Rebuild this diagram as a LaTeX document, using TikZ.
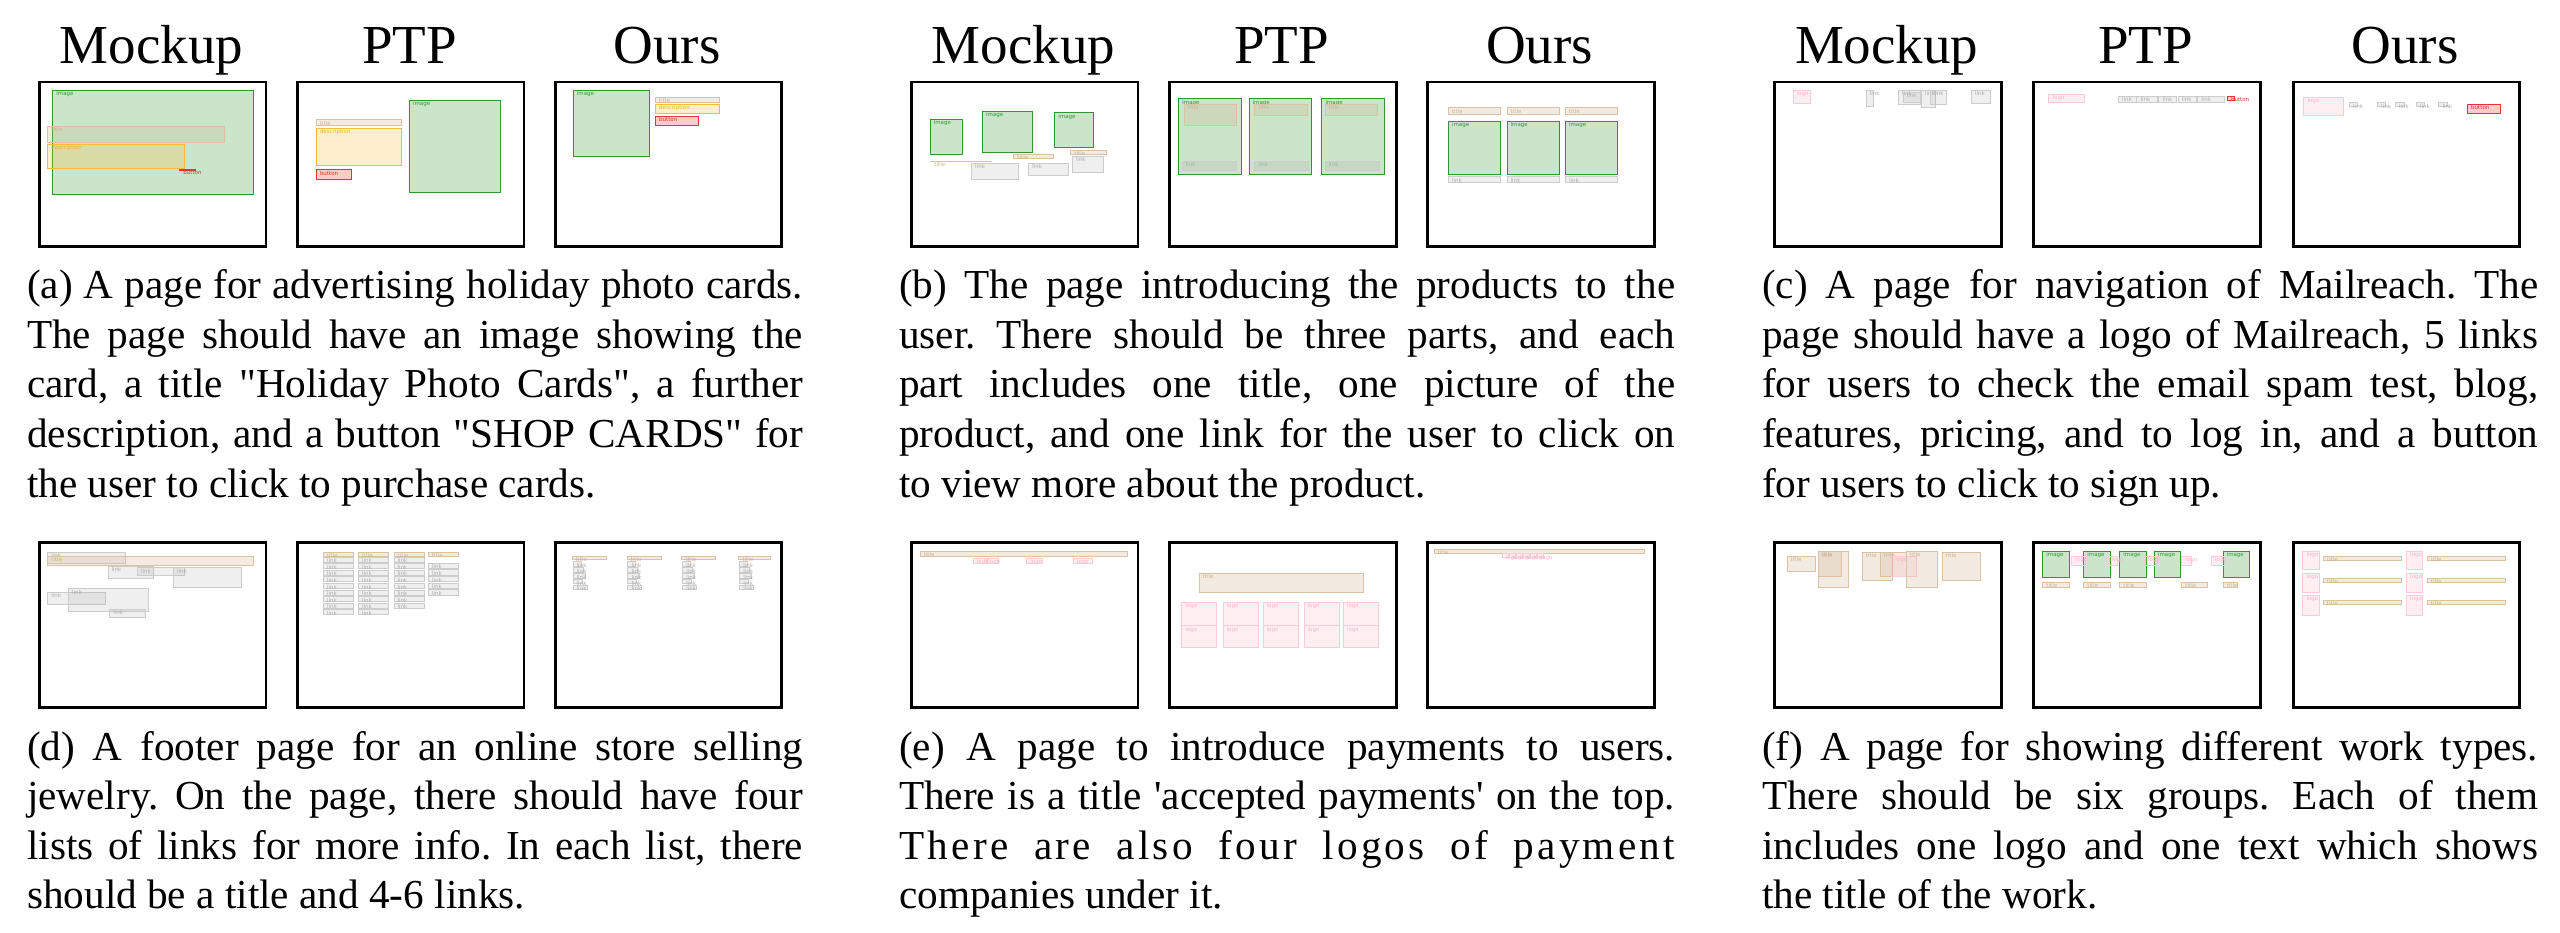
\documentclass[tikz,border=0pt]{standalone}
\usepackage{fontspec}
\newfontfamily\capf{Liberation Serif}
\newfontfamily\lblf{DejaVu Sans}
\definecolor{imgC}{rgb}{0.2,0.6,0.2}
\definecolor{imgB}{rgb}{0.2,0.58,0.2}
\definecolor{ttlC}{rgb}{0.82,0.70,0.55}
\definecolor{ttlB}{rgb}{0.86,0.76,0.64}
\definecolor{desC}{rgb}{1,0.75,0.2}
\definecolor{desB}{rgb}{0.96,0.74,0.25}
\definecolor{btnC}{rgb}{1,0.2,0.2}
\definecolor{btnB}{rgb}{0.9,0.2,0.22}
\definecolor{lnkC}{rgb}{0.6,0.6,0.6}
\definecolor{lnkB}{rgb}{0.8,0.8,0.8}
\definecolor{logC}{rgb}{1,0.6,0.7}
\definecolor{logB}{rgb}{0.98,0.8,0.84}
\definecolor{imgT}{rgb}{0.2,0.6,0.2}
\definecolor{ttlT}{rgb}{0.8,0.7,0.6}
\definecolor{desT}{rgb}{0.94,0.7,0.25}
\definecolor{btnT}{rgb}{0.85,0.2,0.2}
\definecolor{lnkT}{rgb}{0.68,0.68,0.68}
\definecolor{logT}{rgb}{0.95,0.72,0.78}
\newcounter{bxn}
\newcommand\bx[6]{\stepcounter{bxn}\draw[#1] (#2,#3) rectangle (#4,#5);
  \node[lbl,#1txt] (L\the\value{bxn}) at (#2,#3) {#6};}
\newcommand\pnl[4]{\begin{scope}[shift={(#2,#3)}]#4
  \node[frame] (#1) at (1.35,1.35) {};\end{scope}}
\newcommand\jl[1]{\makebox[776pt][s]{#1}}
\frenchspacing
\begin{document}
\begin{tikzpicture}[x=1pt,y=-1pt,
  frame/.style={draw=black,line width=2.7pt,anchor=north west,inner sep=0pt,
    minimum width=226.6pt,minimum height=164.6pt},
  img/.style={draw=imgB,fill=imgC,fill opacity=0.25,line width=0.9pt},
  imgtxt/.style={text=imgT},
  ttl/.style={draw=ttlB,fill=ttlC,fill opacity=0.25,line width=0.9pt},
  ttltxt/.style={text=ttlT},
  des/.style={draw=desB,fill=desC,fill opacity=0.25,line width=0.9pt},
  destxt/.style={text=desT},
  btn/.style={draw=btnB,fill=btnC,fill opacity=0.25,line width=0.9pt},
  btntxt/.style={text=btnT},
  lnk/.style={draw=lnkB,fill=lnkC,fill opacity=0.15,line width=0.9pt},
  lnktxt/.style={text=lnkT},
  lgo/.style={draw=logB,fill=logC,fill opacity=0.15,line width=0.9pt},
  lgotxt/.style={text=logT},
  lbl/.style={anchor=north west,inner sep=0pt,xshift=3.5pt,yshift=-1.3pt,
    font=\lblf\fontsize{5.5}{6}\selectfont},
  tt/.style={anchor=base,inner sep=0pt,font=\capf\fontsize{55}{60}\selectfont},
  capline/.style={anchor=base west,inner sep=0pt,font=\capf\frenchspacing\fontsize{41.2}{50}\selectfont}]
\fill[white] (0,0) rectangle (2560,932);
\useasboundingbox (0,0) rectangle (2560,932);

% ---------- titles ----------
\node[tt] (tA1) at (151.4,63) {Mockup};
\node[tt] (tA2) at (409.4,63) {PTP};
\node[tt] (tA3) at (667.2,63) {Ours};
\node[tt] (tB1) at (1023.4,63) {Mockup};
\node[tt] (tB2) at (1281.7,63) {PTP};
\node[tt] (tB3) at (1539.7,63) {Ours};
\node[tt] (tC1) at (1886.7,63) {Mockup};
\node[tt] (tC2) at (2145.7,63) {PTP};
\node[tt] (tC3) at (2405.2,63) {Ours};

% ---------- (a) ----------
\pnl{fA1}{36.7}{79.3}{%
  \bx{img}{16}{11}{217}{115}{image}
  \bx{ttl}{11}{47}{188}{63}{title}
  \bx{des}{11}{65}{148}{89}{description}
  \bx{btn}{143}{90}{159}{91.3}{button}}
\pnl{fA2}{294.7}{79.3}{%
  \bx{ttl}{21.6}{40.4}{107}{45.7}{title}
  \bx{des}{21.6}{49}{107}{86}{description}
  \bx{btn}{21.6}{90.4}{57}{99.7}{button}
  \bx{img}{114.6}{21}{206}{113.4}{image}}
\pnl{fA3}{552.5}{79.3}{%
  \bx{img}{20.7}{11}{97}{77.4}{image}
  \bx{ttl}{103}{18}{167}{23.4}{title}
  \bx{des}{103}{25}{167}{33.7}{description}
  \bx{btn}{103}{36.7}{146.4}{46}{button}}

% ---------- (b) ----------
\pnl{fB1}{908.7}{79.3}{%
  \bx{img}{21.4}{40}{53.4}{75.3}{image}
  \bx{img}{73.8}{31.7}{124}{73.3}{image}
  \bx{img}{146}{33.3}{184.5}{68.3}{image}
  \bx{ttl}{22}{82}{82.4}{82.6}{title}
  \bx{ttl}{105}{75}{145}{78.7}{title}
  \bx{ttl}{162}{71}{198}{75}{title}
  \bx{lnk}{62.8}{83.7}{109.3}{99.7}{link}
  \bx{lnk}{120}{83.7}{160}{96.3}{link}
  \bx{lnk}{163.4}{76.7}{195}{93}{link}}
\pnl{fB2}{1167}{79.3}{%
  \bx{img}{11.7}{19.3}{74.1}{94.7}{image}
  \bx{ttl}{17}{25}{69.7}{46}{title}
  \bx{lnk}{15}{82}{69.7}{91.3}{link}
  \bx{img}{82}{19.3}{144.5}{94.7}{image}
  \bx{ttl}{87.6}{25}{140}{35.7}{title}
  \bx{lnk}{87.6}{82}{141.7}{91.3}{link}
  \bx{img}{154.8}{19.3}{217.2}{94.7}{image}
  \bx{ttl}{158}{25}{210.3}{35.7}{title}
  \bx{lnk}{158}{82}{212}{91.3}{link}}
\pnl{fB3}{1425}{79.3}{%
  \foreach \a/\b in {23.3/75.3,82/134.3,140.3/192.7}{%
    \bx{ttl}{\a}{28.4}{\b}{35.4}{title}
    \bx{img}{\a}{42}{\b}{94.7}{image}
    \bx{lnk}{\a}{97.4}{\b}{103.4}{link}}}

% ---------- (c) ----------
\pnl{fC1}{1772}{79.3}{%
  \bx{lgo}{21}{11}{38}{23.7}{logo}
  \bx{lnk}{94}{11}{101.2}{27}{link}
  \bx{lnk}{126.3}{11}{148.8}{25.3}{link}
  \bx{lnk}{131}{13}{148}{23}{link}
  \bx{lnk}{149.3}{11}{163.6}{27.7}{link}
  \bx{lnk}{158}{11}{174}{25.3}{link}
  \bx{lnk}{199.4}{11}{218.8}{24.3}{link}}
\pnl{fC2}{2031}{79.3}{%
  \bx{lgo}{17.9}{14.7}{53.7}{23.3}{logo}
  \foreach \a/\b in {87.4/105.8,105.8/126.3,127.8/145.2,147/165,166.6/193.3}{%
    \bx{lnk}{\a}{16.7}{\b}{23.3}{link}}
  \bx{btn}{196.3}{16.7}{203.5}{21.3}{button}}
\pnl{fC3}{2290.5}{79.3}{%
  \bx{lgo}{13.3}{17.7}{53.2}{35.7}{logo}
  \foreach \a/\b in {59/67.3,87/95.2,104.9/114.2,125.8/134.1,148.3/156.5}{%
    \bx{lnk}{\a}{23.3}{\b}{26.7}{link}}
  \bx{btn}{177}{25}{210.4}{34}{button}}

% ---------- (d) ----------
\pnl{fD1}{36.7}{540}{%
  \bx{lnk}{11}{12.3}{89}{23.3}{link}
  \bx{ttl}{11}{16}{217}{25}{title}
  \bx{lnk}{71.3}{26.3}{116.7}{38.7}{link}
  \bx{lnk}{100.6}{27.7}{147.7}{35.3}{link}
  \bx{lnk}{136.6}{27.7}{204.6}{47.7}{link}
  \bx{lnk}{11}{52}{69}{64.7}{link}
  \bx{lnk}{31.6}{48.7}{111.6}{71.3}{link}
  \bx{lnk}{73}{69.3}{108.3}{77}{link}}
\pnl{fD2}{294.7}{540}{%
  \foreach \a/\n in {28.6/8,63.6/8,99.3/7}{%
    \bx{ttl}{\a}{12.3}{\a+30}{16.3}{title}
    \foreach \k in {0,...,\n}{%
      \bx{lnk}{\a}{17+6.6*\k}{\a+30}{22+6.6*\k}{link}}}
  \bx{ttl}{133.6}{12.3}{163.7}{16.3}{title}
  \foreach \k in {0,...,4}{%
    \bx{lnk}{133.6}{23.3+6.6*\k}{163.7}{28.6+6.6*\k}{link}}}
\pnl{fD3}{552.5}{540}{%
  \foreach \a/\b in {19.7/53.7,74.5/108.5,129.3/163.3,186.3/218}{%
    \bx{ttl}{\a}{16}{\b}{19.7}{title}}
  \foreach \a in {20.5,75.3,130.1,187.1}{%
    \foreach \k/\w in {0/8,1/10,2/12,3/9,4/14}{%
      \bx{lnk}{\a}{21.7+5.9*\k}{\a+\w}{26.2+5.9*\k}{link}}}}

% ---------- (e) ----------
\pnl{fE1}{908.7}{540}{%
  \bx{ttl}{11.3}{11}{218.3}{16.3}{title}
  \bx{lgo}{64.3}{18}{78.3}{23.3}{logo}
  \bx{lgo}{76}{18}{89.7}{23.3}{logo}
  \bx{lgo}{118}{18}{134}{23.3}{logo}
  \bx{lgo}{164.7}{18}{184}{23.3}{logo}}
\pnl{fE2}{1167}{540}{%
  \bx{ttl}{32}{33.3}{196}{52.3}{title}
  \foreach \a/\b in {14.7/49.7,56/91,96/131,137/172,176.3/211.7}{%
    \bx{lgo}{\a}{62.3}{\b}{85.7}{logo}
    \bx{lgo}{\a}{85.7}{\b}{107.3}{logo}}}
\pnl{fE3}{1425}{540}{%
  \bx{ttl}{9}{9}{219}{13}{title}
  \foreach \a in {77,84,91,98,105,112}{%
    \bx{lgo}{\a}{13.5}{\a+6}{17}{logo}}}

% ---------- (f) ----------
\pnl{fF1}{1772}{540}{%
  \bx{ttl}{15}{16}{43.3}{31.7}{title}
  \bx{ttl}{46}{11}{76}{47.7}{title}
  \bx{ttl}{46}{11.7}{69.3}{36.7}{title}
  \bx{ttl}{90.3}{12.3}{120.3}{40.7}{title}
  \bx{ttl}{108}{12.3}{134.3}{36.7}{title}
  \bx{lgo}{119.7}{16}{144.3}{36.7}{logo}
  \bx{ttl}{134}{11}{165.3}{47.7}{title}
  \bx{ttl}{170}{12.3}{208.3}{40.7}{title}}
\pnl{fF2}{2031}{540}{%
  \foreach \a/\b in {11.7/38,52.7/79,88.7/115,123.3/149.7,192/218}{%
    \bx{img}{\a}{11}{\b}{37}{image}}
  \foreach \a/\b in {40.7/55,77.3/86,113.3/127.3,150.7/160,180/194.3}{%
    \bx{lgo}{\a}{16}{\b}{25.3}{logo}}
  \foreach \a/\b in {11.7/38,52.7/79,88.7/115,150.7/176.7,192/206.7}{%
    \bx{ttl}{\a}{42.3}{\b}{47.7}{title}}}
\pnl{fF3}{2290.5}{540}{%
  \foreach \r/\s in {11/29.7,33/52.3,55.3/75.3}{%
    \bx{lgo}{12.3}{\r}{28.6}{\s}{logo}
    \bx{lgo}{116}{\r}{132.3}{\s}{logo}}
  \foreach \r in {16,38.3,60.3}{%
    \bx{ttl}{33}{\r}{111.3}{\r+4}{title}
    \bx{ttl}{136.6}{\r}{214.6}{\r+4}{title}}}

% ---------- captions ----------
\node[capline] (cA1) at (27,298.3) {\jl{(a) A page for advertising holiday photo cards.}};
\node[capline] (cA2) at (27,348) {\jl{The page should have an image showing the}};
\node[capline] (cA3) at (27,397.7) {\jl{card, a title "Holiday Photo Cards", a further}};
\node[capline] (cA4) at (27,447.4) {\jl{description, and a button "SHOP CARDS" for}};
\node[capline] (cA5) at (27,497.1) {the user to click to purchase cards.};

\node[capline] (cB1) at (899,298.3) {\jl{(b) The page introducing the products to the}};
\node[capline] (cB2) at (899,348) {\jl{user. There should be three parts, and each}};
\node[capline] (cB3) at (899,397.7) {\jl{part includes one title, one picture of the}};
\node[capline] (cB4) at (899,447.4) {\jl{product, and one link for the user to click on}};
\node[capline] (cB5) at (899,497.1) {to view more about the product.};

\node[capline] (cC1) at (1762,298.3) {\jl{(c) A page for navigation of Mailreach. The}};
\node[capline] (cC2) at (1762,348) {\jl{page should have a logo of Mailreach, 5 links}};
\node[capline] (cC3) at (1762,397.7) {\jl{for users to check the email spam test, blog,}};
\node[capline] (cC4) at (1762,447.4) {\jl{features, pricing, and to log in, and a button}};
\node[capline] (cC5) at (1762,497.1) {for users to click to sign up.};

\node[capline] (cD1) at (27,760) {\jl{(d) A footer page for an online store selling}};
\node[capline] (cD2) at (27,809.6) {\jl{jewelry. On the page, there should have four}};
\node[capline] (cD3) at (27,859.2) {\jl{lists of links for more info. In each list, there}};
\node[capline] (cD4) at (27,908.8) {should be a title and 4-6 links.};

\node[capline] (cE1) at (899,760) {\jl{(e) A page to introduce payments to users.}};
\node[capline] (cE2) at (899,809.6) {\jl{There is a title 'accepted payments' on the top.}};
\node[capline] (cE3) at (899,859.2) {\jl{\addfontfeature{LetterSpace=8}There are also four logos of payment}};
\node[capline] (cE4) at (899,908.8) {companies under it.};

\node[capline] (cF1) at (1762,760) {\jl{(f) A page for showing different work types.}};
\node[capline] (cF2) at (1762,809.6) {\jl{There should be six groups. Each of them}};
\node[capline] (cF3) at (1762,859.2) {\jl{includes one logo and one text which shows}};
\node[capline] (cF4) at (1762,908.8) {the title of the work.};
\end{tikzpicture}
\end{document}
